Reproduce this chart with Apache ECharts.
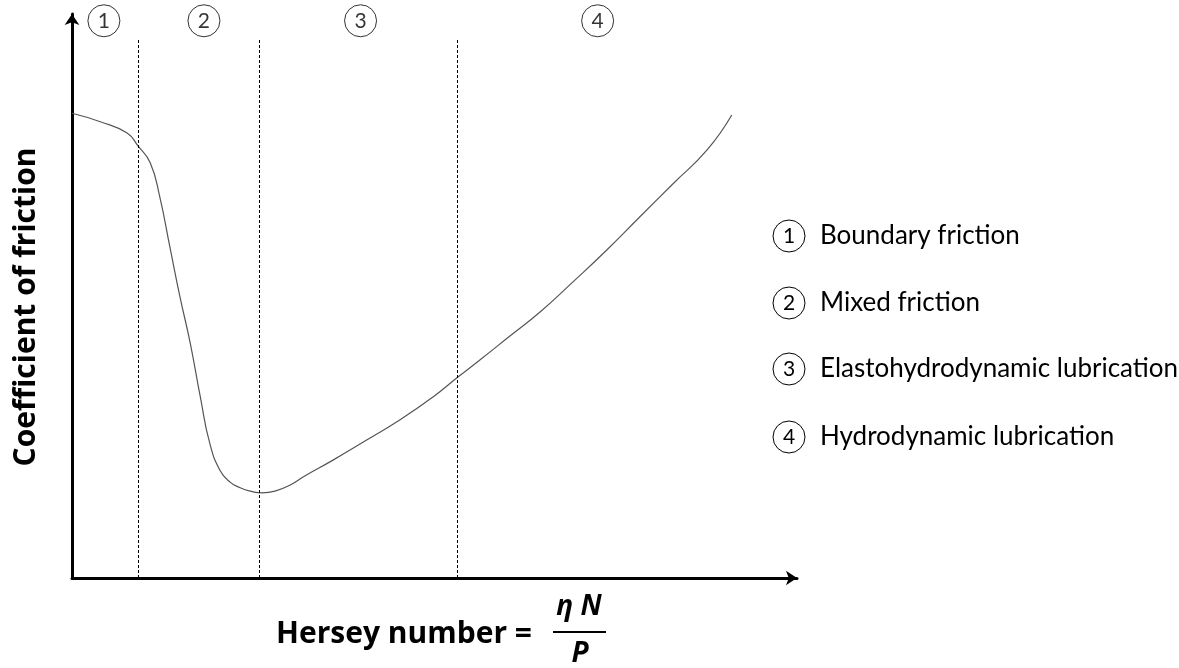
<!DOCTYPE html>
<html>
<head>
<meta charset="utf-8">
<script src="https://cdn.jsdelivr.net/npm/echarts@6/dist/echarts.min.js"></script>
<style>
  html, body { margin: 0; padding: 0; background: #fff; }
  #chart { width: 1179px; height: 668px; }
</style>
</head>
<body>
<div id="chart"></div>
<script>
// Stribeck curve (arbitrary units)
const herseyX = [0.00, 0.39, 0.76, 0.91, 1.08, 1.21, 1.35, 1.49, 1.63, 1.77, 1.90, 2.04, 2.18, 2.32, 2.46,
  2.62, 2.80, 3.01, 3.21, 3.60, 4.07, 4.52, 4.98, 5.31, 5.63, 6.04, 6.46, 6.91, 7.38, 7.83, 8.29, 8.76, 9.10]
const frictionY = [8.24, 8.09, 7.89, 7.66, 7.36, 6.76, 5.87, 4.98, 4.17, 3.21, 2.39, 1.91, 1.70, 1.60, 1.54,
  1.51, 1.54, 1.65, 1.81, 2.09, 2.45, 2.80, 3.21, 3.55, 3.87, 4.29, 4.72, 5.25, 5.82, 6.40, 6.99, 7.59, 8.21]

// regime boundaries and labels
const boundaries = [0.91, 2.58, 5.31]
const boundaryTop = 9.57
const regionNums = ['1', '2', '3', '4']
const regionX = [0.44, 1.82, 3.98, 7.25]
const regionY = 9.88
const regionNames = ['Boundary friction', 'Mixed friction', 'Elastohydrodynamic lubrication', 'Hydrodynamic lubrication']

const chart = echarts.init(document.getElementById('chart'))

const legendTop = [236, 303, 369, 437]
const legendGraphics = []
regionNames.forEach(function (name, i) {
  legendGraphics.push({
    type: 'circle',
    shape: { cx: 789, cy: legendTop[i], r: 16 },
    style: { fill: '#fff', stroke: '#000', lineWidth: 1 }
  })
  legendGraphics.push({
    type: 'text',
    x: 789, y: legendTop[i],
    style: { text: regionNums[i], font: '21px Lato, "DejaVu Sans"', fill: '#000', align: 'center', verticalAlign: 'middle' }
  })
  legendGraphics.push({
    type: 'text',
    x: 820, y: legendTop[i],
    style: { text: name, font: '26px Lato, "DejaVu Sans"', fill: '#000', align: 'left', verticalAlign: 'middle' }
  })
})

const option = {
  animation: false,
  grid: { left: 72, top: 14, width: 725, height: 564 },
  xAxis: {
    type: 'value', min: 0, max: 10,
    axisLine: { show: true, onZero: false, symbol: ['none', 'arrow'], symbolSize: [11, 11], lineStyle: { color: '#000', width: 3 } },
    axisTick: { show: false }, axisLabel: { show: false }, splitLine: { show: false }
  },
  yAxis: {
    type: 'value', min: 0, max: 10,
    axisLine: { show: true, onZero: false, symbol: ['none', 'arrow'], symbolSize: [11, 11], lineStyle: { color: '#000', width: 3 } },
    axisTick: { show: false }, axisLabel: { show: false }, splitLine: { show: false }
  },
  series: [
    {
      type: 'line',
      data: herseyX.map(function (x, i) { return [x, frictionY[i]] }),
      smooth: 0.5,
      showSymbol: false,
      lineStyle: { color: '#555', width: 1.2 },
      markLine: {
        silent: true,
        symbol: ['none', 'none'],
        label: { show: false },
        lineStyle: { color: '#000', width: 1, type: [3, 2] },
        data: boundaries.map(function (b) { return [{ coord: [b, 0] }, { coord: [b, boundaryTop] }] })
      }
    },
    {
      type: 'scatter',
      data: regionX.map(function (x, i) { return [x, regionY, regionNums[i]] }),
      symbol: 'circle',
      symbolSize: 32,
      itemStyle: { color: '#fff', borderColor: '#000', borderWidth: 1 },
      label: {
        show: true, position: 'inside', color: '#000', fontSize: 21, fontFamily: 'Lato, "DejaVu Sans"',
        formatter: function (p) { return p.value[2] }
      }
    }
  ],
  graphic: legendGraphics.concat([
    {
      type: 'text', x: 26, y: 307, rotation: Math.PI / 2,
      style: { text: 'Coefficient of friction', font: 'bold 30px "Open Sans", "DejaVu Sans"', fill: '#000', align: 'center', verticalAlign: 'middle' }
    },
    {
      type: 'text', x: 404, y: 634,
      style: { text: 'Hersey number =', font: 'bold 30px "Open Sans", "DejaVu Sans"', fill: '#000', align: 'center', verticalAlign: 'middle' }
    },
    {
      type: 'text', x: 579, y: 607,
      style: { text: 'η N', font: 'italic bold 28px "Open Sans", "DejaVu Sans"', fill: '#000', align: 'center', verticalAlign: 'middle' }
    },
    {
      type: 'line', shape: { x1: 553, y1: 632, x2: 606, y2: 632 },
      style: { stroke: '#000', lineWidth: 2 }
    },
    {
      type: 'text', x: 580, y: 654,
      style: { text: 'P', font: 'italic bold 28px "Open Sans", "DejaVu Sans"', fill: '#000', align: 'center', verticalAlign: 'middle' }
    }
  ])
}

chart.setOption(option)
</script>
</body>
</html>
